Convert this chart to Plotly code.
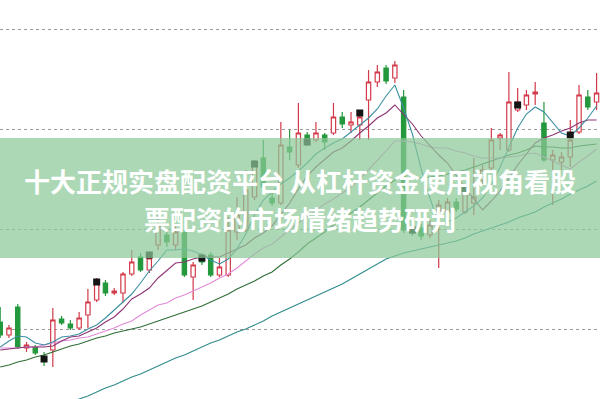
import plotly.graph_objects as go

idx = list(range(69))
opens = [3107,3094,3122,3081,3082,3072,3079,3110,3105,3101,3114,3129,3146,3136,3136,3155,3172,3159,3184,3194,
         3184,3197,3152,3173,3174,3154,3154,3197,3199,3232,3271,3231,3226,3282,3264,3294,3289,3294,3296,3312,
         3304,3304,3329,3347,3361,3351,3332,3202,3201,3194,3217,3217,3227,3217,3226,3249,3261,3291,3279,3319,
         3324,3335,3306,3269,3267,3272,3297,3332,3327]
highs = [3122,3104,3125,3087,3084,3077,3121,3113,3109,3117,3140,3151,3149,3141,3157,3179,3176,3176,3214,3199,
         3204,3212,3167,3176,3177,3171,3212,3232,3259,3269,3289,3239,3307,3299,3326,3297,3307,3296,3326,3317,
         3317,3319,3359,3364,3364,3368,3339,3204,3205,3209,3229,3231,3231,3242,3271,3264,3301,3296,3357,3341,
         3339,3347,3327,3279,3277,3309,3344,3339,3356]
lows = [3091,3091,3080,3077,3074,3063,3062,3104,3099,3099,3101,3127,3133,3134,3126,3153,3157,3156,3179,3182,
        3179,3152,3129,3164,3152,3152,3152,3189,3197,3229,3239,3223,3224,3269,3261,3283,3287,3279,3294,3301,
        3296,3289,3289,3342,3345,3346,3196,3193,3189,3191,3161,3214,3217,3215,3214,3244,3256,3279,3277,3317,
        3319,3324,3267,3224,3259,3262,3295,3319,3319]
closes = [3094,3101,3082,3084,3076,3069,3109,3106,3101,3111,3127,3146,3136,3138,3155,3167,3159,3171,3203,3187,
          3197,3154,3164,3167,3154,3162,3199,3214,3239,3264,3242,3226,3284,3277,3296,3286,3296,3287,3312,3305,
          3307,3312,3347,3357,3348,3364,3199,3196,3193,3204,3224,3227,3220,3237,3232,3259,3289,3294,3327,3327,
          3334,3337,3269,3274,3272,3289,3334,3322,3336]

ma5 = [3082,3088,3093,3092,3086,3084,3087,3092,3093,3095,3100,3104,3111,3119,3127,3135,3146,3158,3168,3179,
       3179,3180,3178,3174,3169,3165,3170,3180,3195,3214,3229,3237,3245,3251,3258,3266,3275,3281,3286,3290,
       3297,3304,3311,3320,3333,3344,3321,3295,3260,3231,3205,3207,3211,3217,3223,3231,3244,3262,3281,3301,
       3315,3322,3317,3307,3296,3293,3301,3311,3323]
ma10 = [3079,3080,3081,3082,3082,3082,3083,3088,3092,3093,3097,3101,3107,3112,3120,3130,3135,3141,3151,3159,
        3166,3167,3170,3172,3172,3172,3176,3180,3184,3191,3196,3203,3215,3226,3240,3253,3262,3270,3277,3281,
        3288,3296,3303,3311,3316,3324,3314,3305,3293,3283,3274,3266,3253,3241,3230,3219,3228,3238,3251,3264,
        3275,3286,3291,3294,3298,3301,3306,3309,3309]
ma20 = [3081,3081,3081,3082,3082,3084,3086,3088,3089,3091,3092,3095,3098,3101,3105,3108,3114,3119,3124,3126,
        3131,3134,3138,3142,3146,3151,3155,3161,3168,3175,3181,3185,3192,3199,3206,3212,3219,3225,3230,3236,
        3242,3250,3259,3268,3278,3288,3288,3287,3285,3282,3281,3281,3278,3276,3273,3271,3271,3271,3272,3273,
        3275,3276,3272,3268,3264,3260,3267,3273,3280]
ma30 = [3062,3064,3067,3069,3072,3074,3077,3080,3083,3085,3088,3091,3093,3096,3098,3100,3102,3105,3108,3111,
        3114,3117,3120,3123,3127,3131,3135,3140,3144,3148,3153,3157,3164,3170,3177,3185,3191,3197,3204,3210,
        3216,3222,3229,3236,3243,3249,3251,3252,3251,3252,3253,3255,3257,3259,3262,3265,3268,3271,3274,3276,
        3279,3283,3282,3282,3281,3281,3283,3284,3285]
ma60 = [2997,3001,3004,3008,3011,3015,3019,3022,3026,3030,3033,3037,3041,3044,3048,3052,3055,3059,3063,3067,
        3071,3074,3078,3082,3086,3089,3093,3097,3100,3104,3108,3113,3117,3121,3125,3129,3133,3137,3141,3145,
        3150,3155,3160,3165,3170,3173,3176,3178,3180,3182,3184,3186,3188,3191,3195,3198,3201,3204,3207,3211,
        3214,3217,3222,3226,3230,3235,3239,3243,3248]

marker_idx = [5, 11, 17, 23, 29, 35, 41, 47, 53, 59, 65]
marker_price = [3070, 3147, 3174, 3171, 3265, 3287, 3316, 3199, 3239, 3324, 3294]

grid_levels = [3100, 3200, 3300, 3400]
title_lines = ["十大正规实盘配资平台 从杠杆资金使用视角看股", "票配资的市场情绪趋势研判"]

fig = go.Figure()

ma_specs = [
    (ma60, "#2f8a8c"),
    (ma30, "#2f6e35"),
    (ma20, "#e08ad8"),
    (ma10, "#8e3474"),
    (ma5, "#3b8fa0"),
]
for vals, col in ma_specs:
    fig.add_trace(go.Scatter(x=idx, y=vals, mode="lines",
                             line=dict(color=col, width=1.1), hoverinfo="skip"))

fig.add_trace(go.Candlestick(
    x=idx, open=opens, high=highs, low=lows, close=closes,
    increasing=dict(line=dict(color="#d23a4a", width=1.2), fillcolor="#ffffff"),
    decreasing=dict(line=dict(color="#24983c", width=1.2), fillcolor="#24983c"),
    whiskerwidth=0,
))

fig.add_trace(go.Scatter(x=marker_idx, y=marker_price, mode="markers",
                         marker=dict(symbol="square", size=7, color="#151515",
                                     line=dict(color="#151515", width=0)),
                         hoverinfo="skip"))

fig.add_shape(type="rect", xref="paper", yref="paper", x0=0, x1=1,
              y0=1 - 258 / 399, y1=1 - 138 / 399,
              fillcolor="rgba(140,201,152,0.72)", line=dict(width=0), layer="above")

fig.add_annotation(text="<b>" + title_lines[0] + "</b>", xref="paper", yref="paper",
                   x=0.5, y=1 - 181 / 399, xanchor="center", yanchor="middle", showarrow=False,
                   font=dict(family="Noto Sans CJK SC", size=26, color="white"))
fig.add_annotation(text="<b>" + title_lines[1] + "</b>", xref="paper", yref="paper",
                   x=0.5, y=1 - 218 / 399, xanchor="center", yanchor="middle", showarrow=False,
                   font=dict(family="Noto Sans CJK SC", size=26, color="white"))

fig.update_layout(
    width=600, height=399, margin=dict(l=0, r=0, t=0, b=0),
    paper_bgcolor="white", plot_bgcolor="white", showlegend=False,
    xaxis=dict(range=[-0.023, 68.39], showgrid=False, zeroline=False, showticklabels=False,
               rangeslider=dict(visible=False), showline=False, ticks=""),
    yaxis=dict(range=[3030, 3429], tickvals=grid_levels, showgrid=True, gridcolor="#9a9a9a",
               griddash="dot", gridwidth=1, zeroline=False, showticklabels=False, showline=False, ticks=""),
)

fig.write_html("out.html")
